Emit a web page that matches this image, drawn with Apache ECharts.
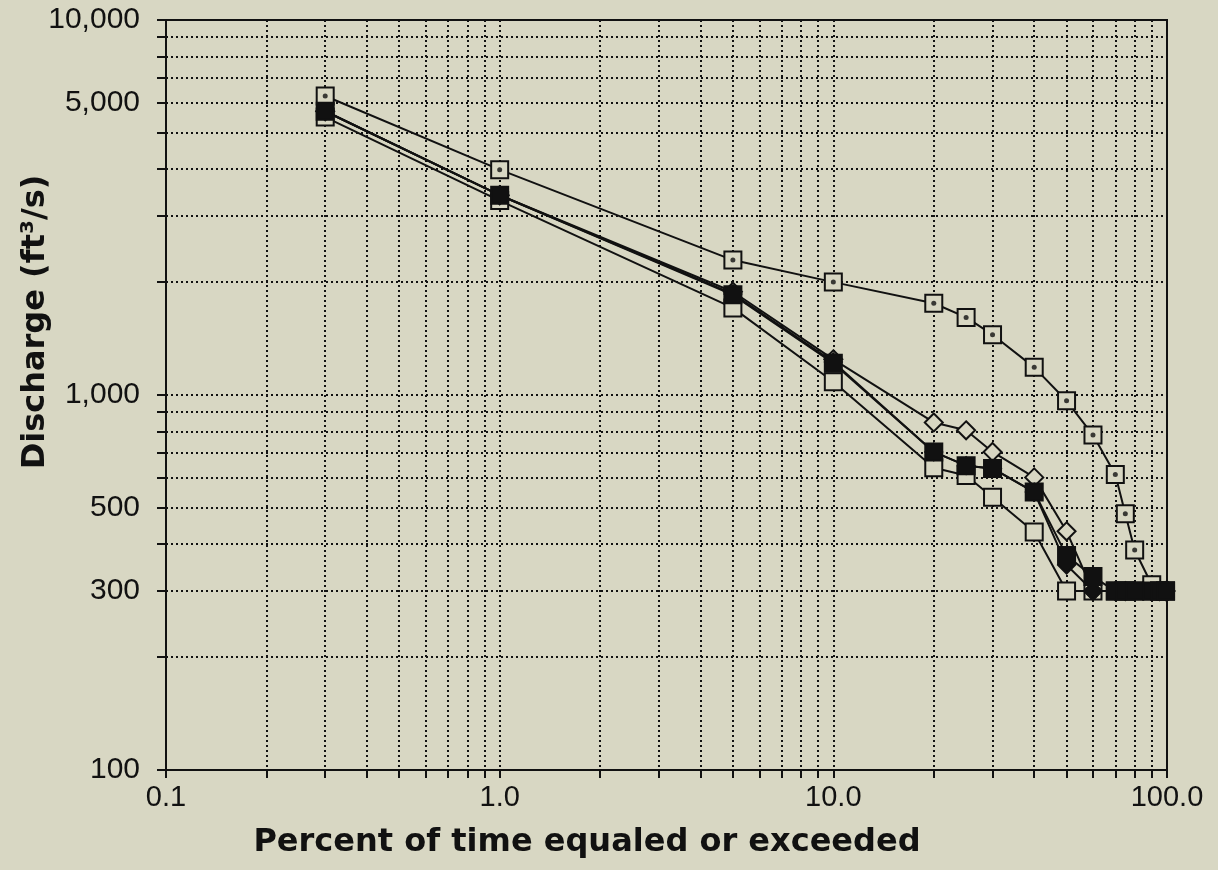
<!DOCTYPE html>
<html>
<head>
<meta charset="utf-8">
<script src="https://cdn.jsdelivr.net/npm/echarts@6/dist/echarts.min.js"></script>
<style>
  html, body { margin: 0; padding: 0; background: #d8d7c3; }
  #main { width: 1218px; height: 870px; }
</style>
</head>
<body>
<div id="main"></div>
<script>
    // 横轴: 时间百分比
    const percent = [0.3, 1, 5, 10, 20, 25, 30, 40, 50, 60, 70, 75, 80, 90, 95, 99];
    // 各系列流量 (ft3/s)
    const dottedSquare = [6270, 3990, 2290, 2000, 1757, 1610, 1448, 1185, 965, 782, 614, 482, 386, 312, 300, 300];
    const filledSquare = [5710, 3410, 1850, 1215, 705, 648, 637, 551, 373, 328, 300, 300, 300, 300, 300, 300];
    const openSquare = [5510, 3300, 1707, 1085, 640, 610, 534, 431, 300, 300, 300, 300, 300, 300, 300, 300];
    const openDiamond = [5710, 3410, 1885, 1245, 845, 805, 705, 603, 433, 300, 300, 300, 300, 300, 300, 300];
    const filledDiamond = [5710, 3410, 1860, 1225, 705, 648, 637, 551, 352, 300, 300, 300, 300, 300, 300, 300];

    // 网格线/刻度
    const xGridValues = [0.1, 0.2, 0.3, 0.4, 0.5, 0.6, 0.7, 0.8, 0.9, 1, 2, 3, 4, 5, 6, 7, 8, 9, 10, 20, 30, 40, 50, 60, 70, 80, 90, 100];
    const yGridValues = [100, 200, 300, 400, 500, 600, 700, 800, 900, 1000, 2000, 3000, 4000, 5000, 6000, 7000, 8000, 9000, 10000];
    const xLabelValues = [0.1, 1, 10, 100];
    const xLabelTexts = ['0.1', '1.0', '10.0', '100.0'];
    const yLabelValues = [100, 300, 500, 1000, 6000, 10000];
    const yLabelTexts = ['100', '300', '500', '1,000', '5,000', '10,000'];

    const INK = '#111';
    const PAPER = '#d8d7c3';

    function pairs(values) {
        return percent.map((p, i) => [p, values[i]]);
    }

    function lineSeries(name, values, symbol, fill, size, z) {
        return {
            name: name,
            type: 'line',
            z: z,
            data: pairs(values),
            symbol: symbol,
            symbolSize: size,
            showAllSymbol: true,
            lineStyle: { color: INK, width: 2 },
            itemStyle: { color: fill, borderColor: INK, borderWidth: 2 },
            emphasis: { disabled: true },
            animation: false
        };
    }

    const chart = echarts.init(document.getElementById('main'));
    chart.setOption({
        backgroundColor: PAPER,
        textStyle: { fontFamily: 'Liberation Sans' },
        grid: {
            left: 166, right: 51, top: 20, bottom: 100,
            show: true, borderColor: INK, borderWidth: 2
        },
        xAxis: {
            type: 'log',
            min: 0.1,
            max: 100,
            axisLine: { lineStyle: { color: INK, width: 2 } },
            axisTick: {
                customValues: xGridValues,
                length: 8,
                lineStyle: { color: INK, width: 2 }
            },
            axisLabel: {
                customValues: xLabelValues,
                formatter: v => xLabelTexts[xLabelValues.indexOf(v)] || '',
                color: INK,
                fontSize: 29,
                margin: 13
            },
            splitLine: {
                show: true,
                lineStyle: { color: INK, width: 2, type: [2, 3] }
            },
            minorTick: { show: false },
            minorSplitLine: { show: false }
        },
        yAxis: {
            type: 'log',
            min: 100,
            max: 10000,
            axisLine: { lineStyle: { color: INK, width: 2 } },
            axisTick: {
                customValues: yGridValues,
                length: 9,
                lineStyle: { color: INK, width: 2 }
            },
            axisLabel: {
                customValues: yLabelValues,
                formatter: v => yLabelTexts[yLabelValues.indexOf(v)] || '',
                color: INK,
                fontSize: 30,
                margin: 26
            },
            splitLine: {
                show: true,
                lineStyle: { color: INK, width: 2, type: [2, 3] }
            }
        },
        graphic: [
            {
                type: 'text',
                x: 36, y: 322,
                rotation: Math.PI / 2,
                style: {
                    text: 'Discharge (ft³/s)',
                    font: 'bold 32px "DejaVu Sans"',
                    fill: INK,
                    textAlign: 'center',
                    textVerticalAlign: 'middle'
                }
            },
            {
                type: 'text',
                x: 587, y: 843,
                style: {
                    text: 'Percent of time equaled or exceeded',
                    font: 'bold 32px "DejaVu Sans"',
                    fill: INK,
                    textAlign: 'center',
                    textVerticalAlign: 'middle'
                }
            }
        ],
        series: [
            lineSeries('open square', openSquare, 'rect', PAPER, 17, 2),
            lineSeries('open diamond', openDiamond, 'diamond', PAPER, 18, 2),
            lineSeries('filled diamond', filledDiamond, 'diamond', INK, 17, 2),
            lineSeries('dotted square', dottedSquare, 'rect', PAPER, 17, 2),
            {
                // 方块中心的点
                type: 'scatter',
                z: 3,
                data: pairs(dottedSquare),
                symbol: 'circle',
                symbolSize: 5,
                itemStyle: { color: INK },
                silent: true,
                animation: false
            },
            lineSeries('filled square', filledSquare, 'rect', INK, 17, 4)
        ]
    });
</script>
</body>
</html>
